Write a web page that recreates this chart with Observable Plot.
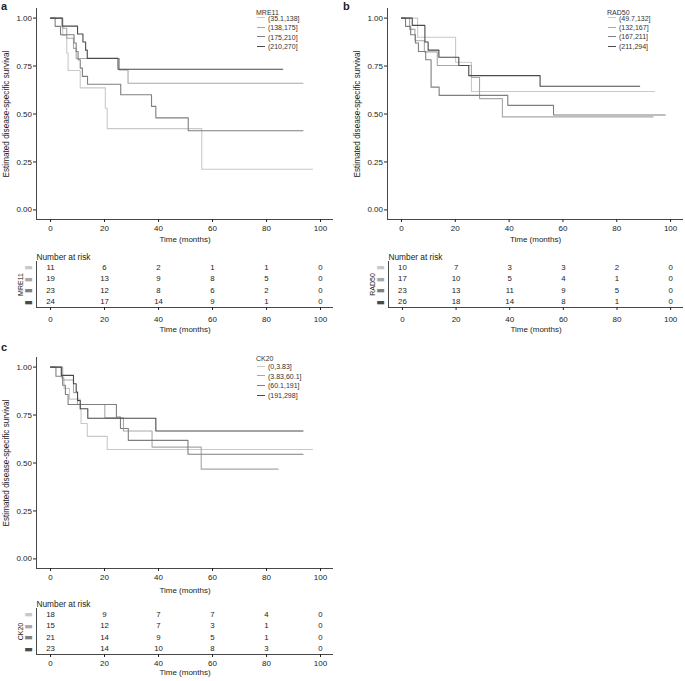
<!DOCTYPE html>
<html><head><meta charset="utf-8">
<script src="https://cdn.jsdelivr.net/npm/d3@7"></script>
<script src="https://cdn.jsdelivr.net/npm/@observablehq/plot@0.6"></script>
<style>
body{margin:0;background:#fff;}
#root{position:relative;width:685px;height:681px;overflow:hidden;font-family:"Liberation Sans",Arial,sans-serif;color:#222;background:#fff;}
.plab{position:absolute;font-weight:bold;font-size:11px;line-height:11px;}
.leg{position:absolute;font-size:7px;line-height:9px;white-space:nowrap;color:#333;}
.leg .key{display:inline-block;width:8px;height:0;border-top:1.2px solid;vertical-align:middle;margin-right:3px;position:relative;top:-1px;}
</style></head><body><div id="root"></div>
<script>
// ---------- shared ----------
const xTicks = [0, 20, 40, 60, 80, 100];
const yTicks = [0, 0.25, 0.5, 0.75, 1];
const riskTimes = [0, 20, 40, 60, 80, 100];
const xDomain = [-5.2, 104.8];
const yDomain = [-0.05, 1.05];
const greys = ["#c9c9c9", "#a8a8a8", "#7f7f7f", "#4a4a4a"];
const yLabel = "Estimated disease-specific survival";
const xLabel = "Time (months)";

// ---------- panel a: MRE11 ----------
const mreGroups = ["(35.1,138]", "(138,175]", "(175,210]", "(210,270]"];
const mreTimes = [
  [0, 4.5, 6, 6.5, 11, 20.3, 21, 56, 97],
  [0, 4.5, 6, 8.5, 9.5, 25.5, 28.7, 93.5],
  [0, 1.7, 3.7, 8.7, 9.5, 10.2, 11, 11.8, 13.7, 26, 37.4, 39, 51, 93.5],
  [0, 4.3, 10, 12, 13, 13.6, 25, 86]
];
const mreSurv = [
  [1, 0.909, 0.818, 0.727, 0.636, 0.53, 0.424, 0.212, 0.212],
  [1, 0.947, 0.895, 0.842, 0.789, 0.73, 0.66, 0.66],
  [1, 0.957, 0.913, 0.87, 0.826, 0.783, 0.739, 0.696, 0.655, 0.6, 0.54, 0.48, 0.413, 0.413],
  [1, 0.958, 0.917, 0.875, 0.833, 0.79, 0.733, 0.733]
];
const mreRisk = [
  [11, 6, 2, 1, 1, 0],
  [19, 13, 9, 8, 5, 0],
  [23, 12, 8, 6, 2, 0],
  [24, 17, 14, 9, 1, 0]
];

// ---------- panel b: RAD50 ----------
const radGroups = ["(49.7,132]", "(132,167]", "(167,211]", "(211,294]"];
const radTimes = [
  [0, 6, 20.1, 26, 94],
  [0, 3, 5, 8.5, 13.3, 26, 29, 37.5, 93.5],
  [0, 1.5, 3.4, 5.2, 6.3, 9, 11, 14, 39.5, 56.5, 98],
  [0, 4, 8.7, 9.9, 13.9, 21.3, 25, 51.5, 88.5]
];
const radSurv = [
  [1, 0.9, 0.77, 0.617, 0.617],
  [1, 0.941, 0.882, 0.824, 0.753, 0.69, 0.58, 0.485, 0.485],
  [1, 0.957, 0.913, 0.87, 0.826, 0.783, 0.64, 0.597, 0.545, 0.495, 0.495],
  [1, 0.962, 0.875, 0.833, 0.796, 0.753, 0.70, 0.645, 0.645]
];
const radRisk = [
  [10, 7, 3, 3, 2, 0],
  [17, 10, 5, 4, 1, 0],
  [23, 13, 11, 9, 5, 0],
  [26, 18, 14, 8, 1, 0]
];

// ---------- panel c: CK20 ----------
const ckGroups = ["(0,3.83]", "(3.83,60.1]", "(60.1,191]", "(191,298]"];
const ckTimes = [
  [0, 4, 5, 7, 11, 11.3, 13.6, 21, 97],
  [0, 4.5, 8.5, 10, 20.1, 27, 37.6, 55.8, 84.3],
  [0, 2, 4.5, 5.5, 6.5, 24.4, 25.9, 28.8, 50.9, 93.5],
  [0, 4, 8.5, 9.5, 10, 11, 13.8, 39, 93.5]
];
const ckSurv = [
  [1, 0.944, 0.889, 0.833, 0.778, 0.706, 0.639, 0.57, 0.57],
  [1, 0.933, 0.867, 0.805, 0.735, 0.667, 0.583, 0.468, 0.468],
  [1, 0.952, 0.905, 0.857, 0.805, 0.74, 0.68, 0.618, 0.546, 0.546],
  [1, 0.957, 0.913, 0.87, 0.826, 0.783, 0.733, 0.667, 0.667]
];
const ckRisk = [
  [18, 9, 7, 7, 4, 0],
  [15, 12, 7, 3, 1, 0],
  [21, 14, 9, 5, 1, 0],
  [23, 14, 10, 8, 3, 0]
];

// ---------- builders ----------
const root = document.getElementById("root");
const FONT = "'Liberation Sans', Arial, sans-serif";

function place(el, left, top) {
  el.style.position = "absolute";
  el.style.left = left + "px";
  el.style.top = top + "px";
  root.appendChild(el);
}

function kmPlot({groups, times, surv, width, marginLeft, marginRight, xlabDy}) {
  const rows = groups.flatMap((g, i) => times[i].map((t, j) => ({g, t, s: surv[i][j]})));
  return Plot.plot({
    width, height: 250, marginLeft, marginRight, marginTop: 8, marginBottom: 31,
    style: {background: "transparent", fontFamily: FONT, fontSize: "8px", color: "#222", overflow: "visible"},
    x: {domain: xDomain},
    y: {domain: yDomain},
    color: {domain: groups, range: greys},
    marks: [
      Plot.ruleX([xDomain[0]], {stroke: "#333", strokeWidth: 0.9}),
      Plot.ruleY([yDomain[0]], {stroke: "#333", strokeWidth: 0.9}),
      Plot.axisX({ticks: xTicks, tickSize: 3, tickPadding: 3, label: null, fontSize: 8}),
      Plot.axisY({ticks: yTicks, tickSize: 3, tickPadding: 1.5, tickFormat: ".2f", label: null, fontSize: 8}),
      Plot.line(rows, {x: "t", y: "s", z: "g", stroke: "g", curve: "step-after", strokeWidth: 1.1}),
      Plot.text([yLabel], {text: d => d, frameAnchor: "left", textAnchor: "middle", rotate: -90, dx: -30, fontSize: 8.2}),
      Plot.text([xLabel], {text: d => d, frameAnchor: "bottom", dy: xlabDy, fontSize: 8})
    ]
  });
}

function riskPlot({groups, risk, name, width, marginLeft, marginRight, tickPad, xlabDy}) {
  const rows = groups.flatMap((g, i) => riskTimes.map((t, j) => ({g, t, row: i + 1, n: risk[i][j]})));
  return Plot.plot({
    width, height: 90, marginLeft, marginRight, marginTop: 11, marginBottom: 33,
    style: {background: "transparent", fontFamily: FONT, fontSize: "8px", color: "#222", overflow: "visible"},
    x: {domain: xDomain},
    y: {domain: [groups.length + 0.5, 0.5], axis: null},
    color: {domain: groups, range: greys},
    marks: [
      Plot.ruleX([xDomain[0]], {stroke: "#333", strokeWidth: 0.9}),
      Plot.ruleY([groups.length + 0.5], {stroke: "#333", strokeWidth: 0.9}),
      Plot.axisX({ticks: xTicks, tickSize: 3, tickPadding: tickPad, label: null, fontSize: 8}),
      Plot.text(rows, {x: "t", y: "row", text: "n", fontSize: 7.8, fill: "#222"}),
      Plot.text(groups, {y: (d, i) => i + 1, frameAnchor: "left", textAnchor: "middle", dx: -8, text: () => "\u25AC", fill: d => d, fontSize: 9, fontFamily: "DejaVu Sans"}),
      Plot.text(["Number at risk"], {text: d => d, frameAnchor: "top-left", dy: -7, textAnchor: "start", fontSize: 8.3}),
      Plot.text([name], {text: d => d, frameAnchor: "left", textAnchor: "middle", rotate: -90, dx: -16, fontSize: 7}),
      Plot.text([xLabel], {text: d => d, frameAnchor: "bottom", dy: xlabDy, fontSize: 8})
    ]
  });
}

function legend(title, groups, left, titleY, itemYs) {
  const t = document.createElement("div");
  t.className = "leg";
  t.textContent = title;
  t.style.left = (left - 1) + "px";
  t.style.top = (titleY - 4.5) + "px";
  root.appendChild(t);
  groups.forEach((g, i) => {
    const d = document.createElement("div");
    d.className = "leg";
    d.style.left = left + "px";
    d.style.top = (itemYs[i] - 4.5) + "px";
    const k = document.createElement("span");
    k.className = "key";
    k.style.borderTopColor = greys[i];
    d.appendChild(k);
    d.appendChild(document.createTextNode(g));
    root.appendChild(d);
  });
}

function label(txt, left, top) {
  const d = document.createElement("div");
  d.className = "plab";
  d.textContent = txt;
  d.style.left = left + "px";
  d.style.top = top + "px";
  root.appendChild(d);
}

// panel a
place(kmPlot({groups: mreGroups, times: mreTimes, surv: mreSurv, width: 340, marginLeft: 36, marginRight: 7, xlabDy: 22}), 0, 0);
place(riskPlot({groups: mreGroups, risk: mreRisk, name: "MRE11", width: 340, marginLeft: 36, marginRight: 7, tickPad: 6, xlabDy: 24}), 0, 250);
legend("MRE11", mreGroups, 257, 12, [18.3, 27.7, 37, 46.5]);
label("a", 1, 1);

// panel b
place(kmPlot({groups: radGroups, times: radTimes, surv: radSurv, width: 345, marginLeft: 47, marginRight: 2, xlabDy: 22}), 340, 0);
place(riskPlot({groups: radGroups, risk: radRisk, name: "RAD50", width: 345, marginLeft: 48, marginRight: 2, tickPad: 6, xlabDy: 24}), 340, 250);
legend("RAD50", radGroups, 608, 12, [18.3, 27.5, 36.7, 46.5]);
label("b", 343, 1);

// panel c
place(kmPlot({groups: ckGroups, times: ckTimes, surv: ckSurv, width: 340, marginLeft: 36, marginRight: 7, xlabDy: 24}), 0, 349);
place(riskPlot({groups: ckGroups, risk: ckRisk, name: "CK20", width: 340, marginLeft: 36, marginRight: 7, tickPad: 3, xlabDy: 20}), 0, 597);
legend("CK20", ckGroups, 257, 358, [366.7, 376, 385.7, 395.7]);
label("c", 1, 342);
</script></body></html>
